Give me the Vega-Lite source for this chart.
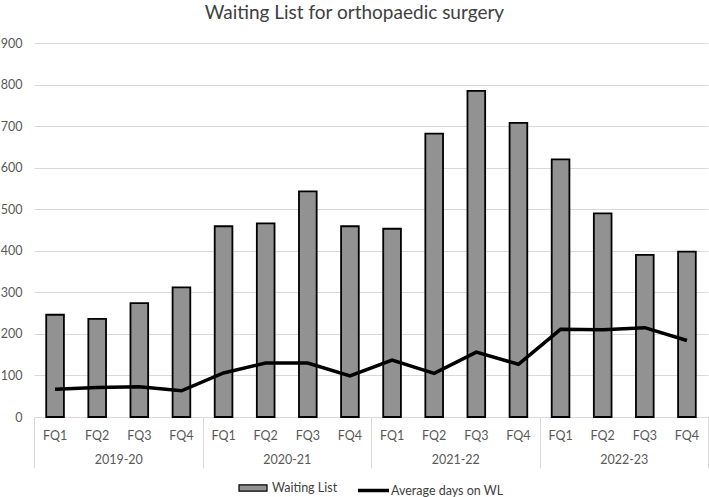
{
  "$schema": "https://vega.github.io/schema/vega-lite/v6.json",
  "width": 674,
  "height": 374,
  "padding": {"left": 0, "top": 4, "right": 2, "bottom": 0},
  "title": {
    "text": "Waiting List for orthopaedic surgery",
    "font": "Lato",
    "fontSize": 19,
    "fontWeight": "normal",
    "color": "#404040",
    "anchor": "middle",
    "frame": "bounds",
    "offset": 14
  },
  "config": {
    "view": {"stroke": null},
    "font": "Lato",
    "axis": {"labelFont": "Lato", "labelColor": "#595959", "labelFontSize": 12.5, "title": null},
    "legend": {
      "labelFont": "Lato",
      "labelFontSize": 12.5,
      "labelColor": "#404040",
      "layout": {"bottom": {"anchor": "middle", "direction": "horizontal", "margin": 18}}
    }
  },
  "data": {
    "values": [
      {"year": "2019-20", "q": "FQ1", "key": "2019-20 FQ1", "waiting": 246, "days": 67},
      {"year": "2019-20", "q": "FQ2", "key": "2019-20 FQ2", "waiting": 236, "days": 71},
      {"year": "2019-20", "q": "FQ3", "key": "2019-20 FQ3", "waiting": 274, "days": 73},
      {"year": "2019-20", "q": "FQ4", "key": "2019-20 FQ4", "waiting": 312, "days": 63},
      {"year": "2020-21", "q": "FQ1", "key": "2020-21 FQ1", "waiting": 459, "days": 106},
      {"year": "2020-21", "q": "FQ2", "key": "2020-21 FQ2", "waiting": 466, "days": 130},
      {"year": "2020-21", "q": "FQ3", "key": "2020-21 FQ3", "waiting": 543, "days": 130},
      {"year": "2020-21", "q": "FQ4", "key": "2020-21 FQ4", "waiting": 459, "days": 99},
      {"year": "2021-22", "q": "FQ1", "key": "2021-22 FQ1", "waiting": 453, "days": 137},
      {"year": "2021-22", "q": "FQ2", "key": "2021-22 FQ2", "waiting": 682, "days": 105},
      {"year": "2021-22", "q": "FQ3", "key": "2021-22 FQ3", "waiting": 785, "days": 156},
      {"year": "2021-22", "q": "FQ4", "key": "2021-22 FQ4", "waiting": 708, "days": 127},
      {"year": "2022-23", "q": "FQ1", "key": "2022-23 FQ1", "waiting": 620, "days": 211},
      {"year": "2022-23", "q": "FQ2", "key": "2022-23 FQ2", "waiting": 490, "days": 210},
      {"year": "2022-23", "q": "FQ3", "key": "2022-23 FQ3", "waiting": 390, "days": 215},
      {"year": "2022-23", "q": "FQ4", "key": "2022-23 FQ4", "waiting": 398, "days": 184}
    ]
  },
  "layer": [
    {
      "layer": [
        {
          "mark": {"type": "bar", "stroke": "#000000", "strokeWidth": 1.8, "width": {"band": 0.42}},
          "encoding": {
            "x": {
              "field": "key",
              "type": "nominal",
              "sort": null,
              "scale": {"paddingInner": 0, "paddingOuter": 0},
              "axis": {
                "labelExpr": "split(datum.value, ' ')[1]",
                "labelAngle": 0,
                "ticks": false,
                "domainColor": "#d9d9d9",
                "domainWidth": 1,
                "labelPadding": 12
              }
            },
            "y": {
              "field": "waiting",
              "type": "quantitative",
              "scale": {"domain": [0, 900]},
              "axis": {
                "values": [0, 100, 200, 300, 400, 500, 600, 700, 800, 900],
                "grid": true,
                "gridColor": "#d9d9d9",
                "gridWidth": 1,
                "domain": false,
                "ticks": false,
                "labelPadding": 12
              }
            },
            "fill": {
              "datum": "Waiting List",
              "scale": {"range": ["#929292"]},
              "legend": {
                "title": null,
                "orient": "bottom",
                "offset": 4,
                "symbolType": "M-1,-0.22H1V0.22H-1Z",
                "symbolSize": 784,
                "symbolStrokeColor": "#000000",
                "symbolStrokeWidth": 1.2,
                "symbolOpacity": 1,
                "labelOffset": 4
              }
            }
          }
        },
        {
          "mark": {"type": "line", "strokeWidth": 3.5},
          "encoding": {
            "x": {"field": "key", "type": "nominal", "sort": null},
            "y": {"field": "days", "type": "quantitative"},
            "stroke": {
              "datum": "Average days on WL",
              "scale": {"range": ["#000000"]},
              "legend": {
                "title": null,
                "orient": "bottom",
                "offset": 4,
                "symbolSize": 961,
                "symbolStrokeWidth": 3.5,
                "labelOffset": 0
              }
            }
          }
        }
      ]
    },
    {
      "mark": {"type": "rule", "opacity": 0},
      "encoding": {
        "x": {
          "field": "year",
          "type": "nominal",
          "sort": null,
          "scale": {"paddingInner": 0, "paddingOuter": 0},
          "axis": {
            "orient": "bottom",
            "tickBand": "extent",
            "tickSize": 51,
            "tickColor": "#d9d9d9",
            "tickWidth": 1,
            "domain": false,
            "labelAngle": 0,
            "labelPadding": -15
          }
        }
      }
    }
  ],
  "resolve": {"scale": {"x": "independent", "fill": "independent", "stroke": "independent"}}
}
